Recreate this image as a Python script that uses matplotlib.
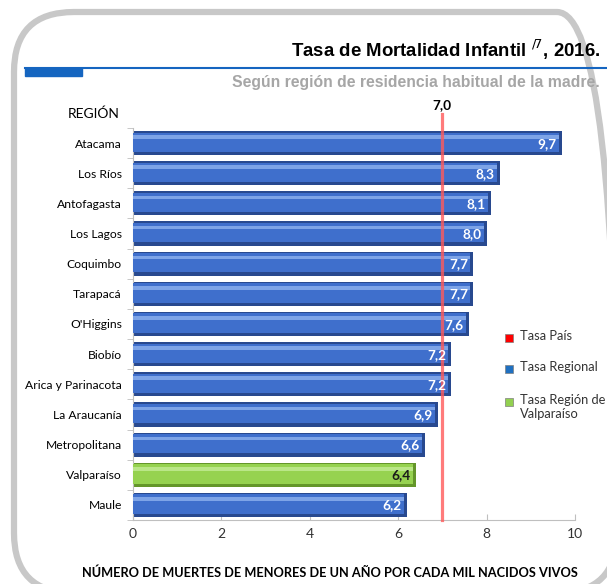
import matplotlib.pyplot as plt
from matplotlib.patches import FancyBboxPatch, Rectangle

# data (top to bottom as in the chart)
regions = ['Atacama', 'Los Ríos', 'Antofagasta', 'Los Lagos', 'Coquimbo', 'Tarapacá',
           "O'Higgins", 'Biobío', 'Arica y Parinacota', 'La Araucanía', 'Metropolitana',
           'Valparaíso', 'Maule']
rates = [9.7, 8.3, 8.1, 8.0, 7.7, 7.7, 7.6, 7.2, 7.2, 6.9, 6.6, 6.4, 6.2]
rate_labels = ['9,7', '8,3', '8,1', '8,0', '7,7', '7,7', '7,6', '7,2', '7,2', '6,9', '6,6', '6,4', '6,2']
country_rate = 7.0
country_label = '7,0'
highlight = 'Valparaíso'

BODY = 'Lato'
HEAD = 'Liberation Sans'
W, H = 607, 584

fig = plt.figure(figsize=(W / 100, H / 100), dpi=100)

def px(x, y):
    # pixel position (from top-left) to inches for dpi_scale_trans
    return x / 100, (H - y) / 100

# rounded gray frame (partly outside the canvas, like the original)
x0, y0 = px(14, 593)
frame = FancyBboxPatch((x0, y0), (617 - 14) / 100, (593 - 12) / 100,
                       boxstyle='round,pad=0,rounding_size=0.6',
                       transform=fig.dpi_scale_trans, fill=False,
                       edgecolor='#c8c8c8', linewidth=4.5)
fig.patches.append(frame)

# title block
fig.text(600 / W, 1 - 50 / H, 'Tasa de Mortalidad Infantil $^{/7}$, 2016.',
         ha='right', va='center', fontsize=13.4, fontweight='bold', family=HEAD)
fig.add_artist(plt.Line2D([25 / W, 1], [1 - 68 / H] * 2, transform=fig.transFigure,
                          color='#1565c0', linewidth=1.5))
fig.patches.append(Rectangle((25 / W, 1 - 76 / H), 57 / W, 8 / H,
                             transform=fig.transFigure, color='#1565c0'))
fig.text(600 / W, 1 - 83 / H, 'Según región de residencia habitual de la madre.',
         ha='right', va='center', fontsize=11.3, fontweight='bold', color='#a6a6a6', family=HEAD)
fig.text(68 / W, 1 - 114 / H, 'REGIÓN', ha='left', va='center', fontsize=10, family=BODY)

ax = fig.add_axes([133 / W, 1 - 520 / H, 442 / W, 392 / H])

y = list(range(len(regions)))
base = ['#96d250' if r == highlight else '#3f6fcc' for r in regions]
dark = ['#64962a' if r == highlight else '#28498f' for r in regions]
light = ['#c4ec97' if r == highlight else '#8fb2ee' for r in regions]

# bevelled bars: dark body, main fill, light highlight stripe
ax.barh(y, rates, height=0.8, color=dark, zorder=2)
ax.barh([v - 0.03 for v in y], [r - 0.07 for r in rates], height=0.64, color=base, zorder=3)
ax.barh([v - 0.2 for v in y], [r - 0.07 for r in rates], height=0.12, color=light,
        alpha=0.8, zorder=4)

for i, (r, lab) in enumerate(zip(rates, rate_labels)):
    ax.text(r - 0.12, i + 0.02, lab, ha='right', va='center', fontsize=9.8, fontweight='bold',
            color='#1a1a1a' if regions[i] == highlight else 'white', family=BODY, zorder=6)

# country rate line
ax.plot([country_rate, country_rate], [len(regions) - 0.5, -0.95], color='#ff5a5a',
        alpha=0.8, linewidth=2.3, zorder=5, clip_on=False)
ax.text(country_rate, -1.05, country_label, ha='center', va='bottom', fontsize=9.8,
        fontweight='bold', family=BODY)

ax.set_xlim(0, 10)
ax.set_ylim(len(regions) - 0.5, -0.5)
ax.set_xticks(range(0, 11, 2))
ax.set_xticklabels([str(v) for v in range(0, 11, 2)], fontsize=10, family=BODY, color='#333333')
ax.set_yticks(y)
ax.set_yticklabels(regions, fontsize=8.7, family=BODY)
ax.set_yticks([v + 0.5 for v in range(-1, len(regions))], minor=True)
ax.tick_params(axis='y', which='major', length=0, pad=8)
ax.tick_params(axis='y', which='minor', length=4, color='#bfbfbf')
ax.tick_params(axis='x', length=4, color='#bfbfbf', direction='in', pad=6)
for s in ['top', 'right']:
    ax.spines[s].set_visible(False)
for s in ['left', 'bottom']:
    ax.spines[s].set_color('#bfbfbf')

ax.set_xlabel('NÚMERO DE MUERTES DE MENORES DE UN AÑO POR CADA MIL NACIDOS VIVOS',
              fontsize=9.2, fontweight='bold', family=BODY, labelpad=19, x=0.445)

# legend
legend_items = [('#ff0000', 'Tasa País', 338), ('#1f70c1', 'Tasa Regional', 369),
                ('#92d050', 'Tasa Región de\nValparaíso', 402)]
for col, txt, py in legend_items:
    fig.patches.append(Rectangle((505 / W, 1 - (py + 4) / H), 8 / W, 8 / H,
                                 transform=fig.transFigure, facecolor=col,
                                 edgecolor='#7f7f7f', linewidth=0.5))
    fig.text(520 / W, 1 - (py - 8) / H, txt, ha='left', va='top', fontsize=9.3,
             family=BODY, color='#333333', linespacing=1.2)

fig.savefig('out.png', dpi=100)
